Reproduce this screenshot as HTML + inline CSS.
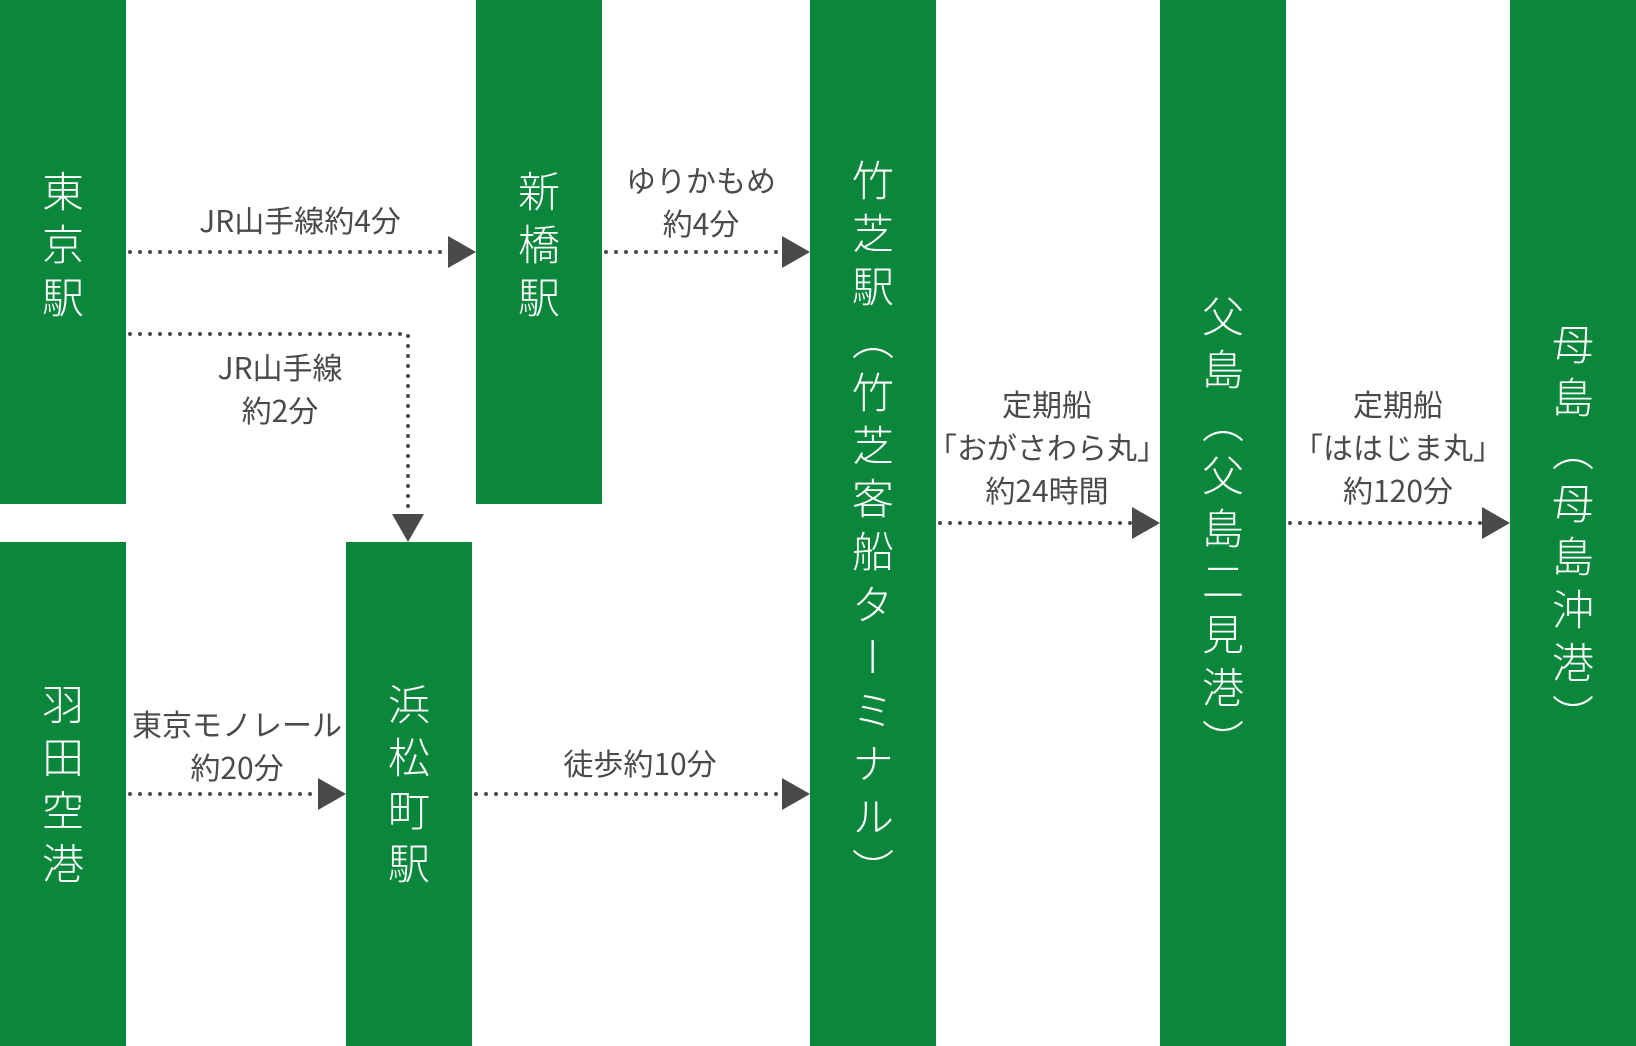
<!DOCTYPE html>
<html><head><meta charset="utf-8"><style>
html,body{margin:0;padding:0;}
body{width:1636px;height:1046px;position:relative;background:#fff;overflow:hidden;font-family:"Noto Sans CJK JP",sans-serif;}
.bar{position:absolute;background:#0a873b;}
.vt{position:absolute;display:flex;justify-content:center;}
.vt span{writing-mode:vertical-rl;color:#fff;font-size:42px;letter-spacing:11px;line-height:1;font-weight:300;margin-left:-1px;font-family:"Noto Sans CJK JP",sans-serif;}
.lb{position:absolute;color:#4a4a4a;font-size:30px;line-height:43px;text-align:center;white-space:nowrap;transform:translateX(-50%);font-family:"Noto Sans CJK JP",sans-serif;}
svg{position:absolute;left:0;top:0;}
</style></head><body>
<div class="bar" style="left:0;top:0;width:126px;height:504px"></div>
<div class="bar" style="left:0;top:542px;width:126px;height:504px"></div>
<div class="bar" style="left:476px;top:0;width:126px;height:504px"></div>
<div class="bar" style="left:346px;top:542px;width:126px;height:504px"></div>
<div class="bar" style="left:810px;top:0;width:126px;height:1046px"></div>
<div class="bar" style="left:1160px;top:0;width:126px;height:1046px"></div>
<div class="bar" style="left:1510px;top:0;width:126px;height:1046px"></div>

<div class="vt" style="left:0;width:126px;top:170px"><span>東京駅</span></div>
<div class="vt" style="left:476px;width:126px;top:170px"><span>新橋駅</span></div>
<div class="vt" style="left:0;width:126px;top:683px"><span>羽田空港</span></div>
<div class="vt" style="left:346px;width:126px;top:683px"><span>浜松町駅</span></div>
<div class="vt" style="left:810px;width:126px;top:159px"><span>竹芝駅（竹芝客船ターミナル）</span></div>
<div class="vt" style="left:1160px;width:126px;top:295px"><span>父島（父島二見港）</span></div>
<div class="vt" style="left:1510px;width:126px;top:323px"><span>母島（母島沖港）</span></div>

<svg width="1636" height="1046">
<g stroke="#4a4a4a" stroke-width="4" stroke-linecap="round" stroke-dasharray="0 10" fill="none">
<line x1="130" y1="252" x2="448" y2="252"/>
<polyline points="130,334 408,334 408,514"/>
<line x1="606" y1="252" x2="782" y2="252"/>
<line x1="130" y1="794" x2="318" y2="794"/>
<line x1="476" y1="794" x2="782" y2="794"/>
<line x1="940" y1="523" x2="1132" y2="523"/>
<line x1="1290" y1="523" x2="1482" y2="523"/>
</g>
<g fill="#4a4a4a">
<polygon points="448,236 476,252 448,268"/>
<polygon points="392,514 424,514 408,542"/>
<polygon points="782,236 810,252 782,268"/>
<polygon points="318,778 346,794 318,810"/>
<polygon points="782,778 810,794 782,810"/>
<polygon points="1132,507 1160,523 1132,539"/>
<polygon points="1482,507 1510,523 1482,539"/>
</g>
</svg>

<div class="lb" style="left:300px;top:198px">JR山手線約4分</div>
<div class="lb" style="left:280px;top:345px">JR山手線<br>約2分</div>
<div class="lb" style="left:701px;top:158px">ゆりかもめ<br>約4分</div>
<div class="lb" style="left:237px;top:702px">東京モノレール<br>約20分</div>
<div class="lb" style="left:640px;top:741px">徒歩約10分</div>
<div class="lb" style="left:1047px;top:382px">定期船<br>「おがさわら丸」<br>約24時間</div>
<div class="lb" style="left:1398px;top:382px">定期船<br>「ははじま丸」<br>約120分</div>
</body></html>
